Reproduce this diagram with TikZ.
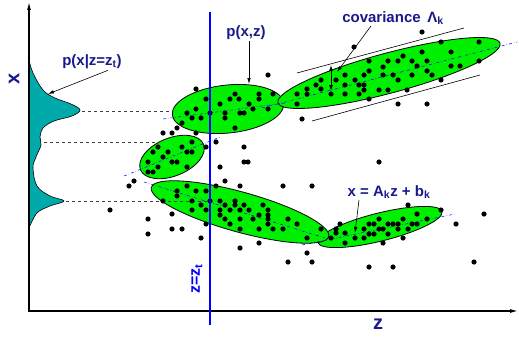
\documentclass[tikz,border=0pt]{standalone}
\usepackage{fontspec}
\setmainfont{Liberation Sans}
\usetikzlibrary{arrows.meta}
\definecolor{blobgreen}{RGB}{0,240,0}
\definecolor{densteal}{RGB}{0,170,170}
\definecolor{lblnavy}{RGB}{25,25,140}

\begin{document}
\begin{tikzpicture}[x=1pt, y=-1pt,
    blob/.style={draw=black, line width=0.8pt, fill=blobgreen},
    regline/.style={blue, line width=0.5pt, dash dot},
    lbl/.style={text=lblnavy, font=\fontsize{15}{17}\selectfont\bfseries, inner sep=1pt},
    ptr/.style={-{Latex[length=6pt,width=3.5pt]}, line width=0.6pt}]

    \useasboundingbox (0,0) rectangle (519,337);

    % density p(x|z=z_t) on the x axis
    \filldraw[fill=densteal, draw=black, line width=0.6pt] plot[smooth, tension=0.6] coordinates {
        (29,60) (33,73) (43,90) (55,98) (71,104) (80,110) (72,116) (54,121) (43,128)
        (40,137) (41,145) (36,157) (33,168) (37,186) (50,196) (64,201) (50,206) (37,213) (29,228)} -- cycle;

    % axes
    \coordinate (origin) at (29,311);
    \coordinate (xEnd) at (518,311);
    \coordinate (yEnd) at (29,2);
    \draw[line width=1.2pt, {Latex[length=8pt,width=4pt]}-{Latex[length=8pt,width=4pt]}] (yEnd) -- (origin) -- (xEnd);
    \node[text=lblnavy, font=\fontsize{20}{22}\selectfont\bfseries, rotate=90] (xLbl) at (14,79) {x};
    \node[text=lblnavy, font=\fontsize{20}{22}\selectfont\bfseries] (zLbl) at (378,324) {z};

    % dashed projections
    \draw[dashed, black!75, line width=0.7pt] (82,111) -- (173,111);
    \draw[dashed, black!75, line width=0.7pt] (44,142) -- (200,142);

    % ellipses p(x,z)
    \draw[blob, rotate around={22:(172,157)}] (172,157) ellipse [x radius=34, y radius=19];
    \draw[blob, rotate around={6:(228,109)}] (228,109) ellipse [x radius=56, y radius=24];
    \draw[blob, rotate around={15:(389,73)}] (389,73) ellipse [x radius=115, y radius=20];
    \draw[blob, rotate around={14:(380,227)}] (380,227) ellipse [x radius=64, y radius=14];
    \draw[blob, rotate around={-15.5:(240,212)}] (240,212) ellipse [x radius=92, y radius=20];

    \draw[dashed, black!75, line width=0.7pt] (66,201) -- (210,201);

    % regression lines
    \draw[regline] (163,119) -- (285,103);
    \draw[regline] (262,108) -- (517,42);
    \draw[regline] (124,176) -- (220,137);
    \draw[regline] (144,182) -- (325,238);
    \draw[regline] (302,245) -- (455,214);

    % samples
    \foreach \px/\py in {
        196/89, 206/99, 220/104, 230/99, 235/94, 239/99, 249/104, 196/109, 187/113, 210/113,
        225/113, 240/113, 244/113, 192/118, 201/118, 225/118, 182/123, 177/128, 235/128, 163/133,
        172/133, 196/133, 192/142, 216/142, 158/147, 182/147, 206/147, 244/147,
        268/75, 259/94, 273/94, 259/99, 253/109, 268/109, 297/94, 307/89, 307/94, 297/104,
        316/85, 321/80, 321/89, 331/94, 336/80, 345/75, 345/85, 345/94, 355/80, 359/85,
        359/94, 364/75, 364/85, 364/90, 302/119, 354/47,
        422/32, 441/42, 479/42, 403/56, 422/52, 451/52, 369/61, 388/61, 398/61, 412/61,
        427/61, 451/66, 460/66, 479/61, 369/71, 383/67, 417/66, 427/71, 383/75, 393/75,
        412/75, 432/75, 398/80, 441/80, 379/90, 388/90, 407/90, 369/99, 398/104, 427/104, 379/162,
        153/152, 163/157, 168/152, 187/152, 192/152, 148/162, 172/162, 177/162, 158/167, 187/167,
        148/172, 153/172, 220/167, 244/162, 248/162, 225/181, 240/186, 134/181, 129/186, 110/210,
        177/191, 187/186, 196/191, 206/191, 216/186, 177/196, 163/201, 192/201, 210/201, 220/201,
        235/201, 201/205, 225/205, 235/205, 244/205, 192/210, 206/210, 220/210, 230/210, 240/210,
        220/215, 172/214, 148/219, 225/219, 240/219, 206/224, 230/224, 172/229, 182/229, 240/229,
        148/234, 201/238, 240/248,
        283/186, 312/186, 263/205, 249/210, 268/210, 259/215, 268/215, 253/219, 268/219, 288/219,
        268/224, 297/224, 259/229, 273/229, 283/229, 321/229, 307/238, 331/238, 340/224, 336/229,
        336/233, 345/233, 355/238, 364/238, 364/229, 345/243, 259/243, 307/253, 288/262, 312/262,
        408/205, 441/210, 484/214, 456/224, 417/214, 379/219, 427/219, 403/219, 369/224, 374/224,
        388/224, 393/224, 398/224, 412/224, 417/224, 379/229, 383/229, 398/229, 408/229, 369/234,
        374/234, 388/234, 403/238, 383/243, 474/262, 369/267, 393/267}
        \fill (\px,\py) circle (2.6pt);

    % slice z = z_t
    \draw[blue, line width=1.2pt] (210,12) -- (210,325);
    \node[text=blue, font=\fontsize{16}{18}\selectfont\bfseries, rotate=90] (ztLbl) at (197,279) {z=z\textsubscript{t}};

    % covariance band
    \draw[line width=0.6pt] (297,73) -- (464,28);
    \draw[line width=0.6pt] (312,121) -- (480,75);
    \coordinate (covTop) at (331,65);
    \coordinate (covBot) at (331,91);
    \draw[{Latex[length=6pt,width=4pt]}-{Latex[length=6pt,width=4pt]}, line width=0.9pt] (covTop) -- (covBot);

    % labels with pointers
    \node[lbl] (condLbl) at (92,62) {p(x|z=z\textsubscript{t})};
    \coordinate (condTip) at (48,94);
    \draw[ptr] ([xshift=16pt]condLbl.south) -- (condTip);

    \node[lbl] (jointLbl) at (246,33) {p(x,z)};
    \coordinate (jointTip) at (249,84);
    \draw[ptr] ([xshift=3pt]jointLbl.south) -- (jointTip);

    \node[lbl] (covLbl) at (393,18) {covariance \,Λ\textsubscript{k}};
    \coordinate (covTip) at (337,72);
    \draw[ptr] ([xshift=-22pt]covLbl.south) -- (covTip);

    \node[lbl] (lineLbl) at (389,192) {x = A\textsubscript{k}z + b\textsubscript{k}};
    \coordinate (lineTip) at (355,233);
    \draw[ptr] ([xshift=-30pt]lineLbl.south) -- (lineTip);

\end{tikzpicture}
\end{document}
